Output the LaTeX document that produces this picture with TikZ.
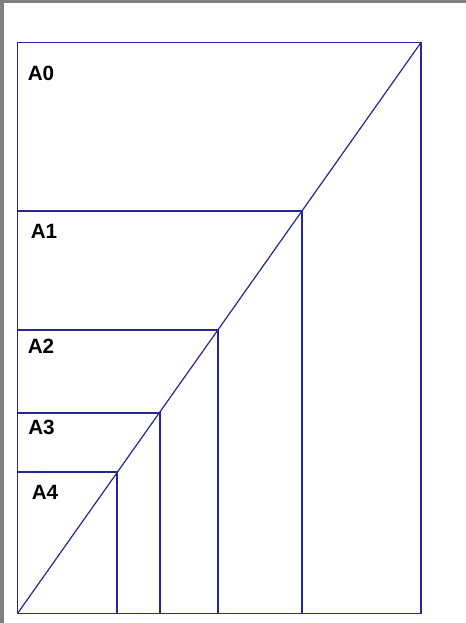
\documentclass[tikz,border=0pt]{standalone}
\usepackage{fontspec}
\setmainfont{Liberation Sans}
\definecolor{pblue}{RGB}{38,38,150}
\definecolor{edgegray}{RGB}{128,128,128}
\begin{document}
\begin{tikzpicture}[x=0.75pt,y=-0.75pt,
  frame/.style={draw=pblue,line width=1.3pt},
  diag/.style={draw=pblue,line width=0.9pt},
  lbl/.style={font=\bfseries\fontsize{15.5}{17}\selectfont,text=black,inner sep=0pt}]
\useasboundingbox (0,0) rectangle (466,623);
\fill[white] (0,0) rectangle (466,623);
\fill[edgegray] (0,0) rectangle (466,3);
\fill[edgegray] (0,0) rectangle (4,623);
% corners
\coordinate (bl) at (17.5,613.5);
\coordinate (tr) at (421,42.5);
\coordinate (c1) at (302,210.7);
\coordinate (c2) at (218,330);
\coordinate (c3) at (160,412.7);
\coordinate (c4) at (117.3,471.7);
% outer sheet A0
\draw[frame] (bl) rectangle (tr);
% subdivisions
\foreach \c in {c1,c2,c3,c4}{
  \draw[frame] (bl |- \c) -- (\c) -- (\c |- bl);
}
% diagonal
\draw[diag] (bl) -- (tr);
% labels
\node[lbl] (a0) at (41,73.5) {A0};
\node[lbl] (a1) at (44,231.5) {A1};
\node[lbl] (a2) at (41,346) {A2};
\node[lbl] (a3) at (41.5,427.5) {A3};
\node[lbl] (a4) at (45,492) {A4};
\end{tikzpicture}
\end{document}
